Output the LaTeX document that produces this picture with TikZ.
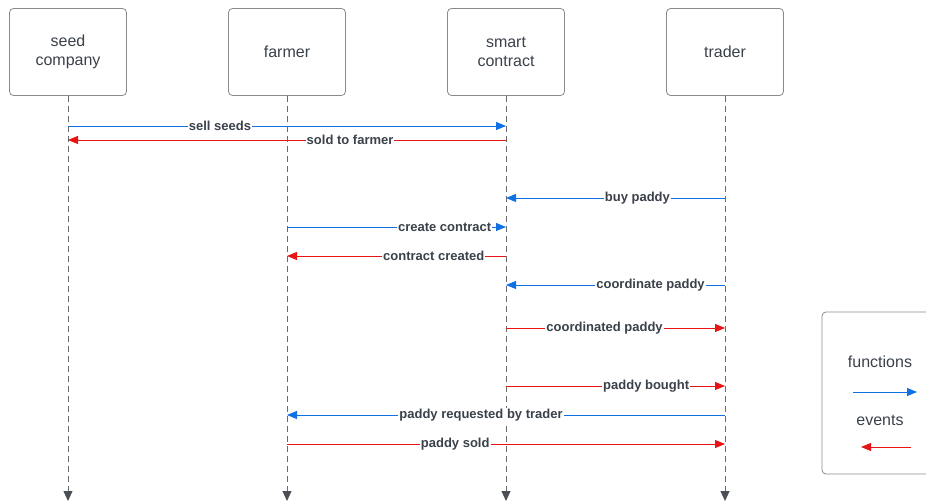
\documentclass[tikz,border=0pt]{standalone}
\usepackage{fontspec}
\setmainfont{Liberation Sans}
\usepackage{tikz}
\usetikzlibrary{positioning}
\usetikzlibrary{arrows.meta}
\definecolor{fnblue}{HTML}{1071E5}
\definecolor{evred}{HTML}{E81313}
\definecolor{boxgray}{HTML}{8A8A8A}
\definecolor{linegray}{HTML}{6B6B6B}
\definecolor{tipgray}{HTML}{4A4F55}
\definecolor{txtgray}{HTML}{3A414A}

\begin{document}
\begin{tikzpicture}[
            x = 1pt, y = -1pt, % pixel grid, y downwards
            > = {Triangle[length=10pt,width=8pt]}, % arrow head style
            node distance = 101.2pt, % gap between boxes
            actor/.style = {draw = boxgray, rounded corners = 4pt, line width = 0.8pt,
                minimum width = 117pt, minimum height = 87pt, align = center,
                text = txtgray, font = \fontsize{16}{19}\selectfont},
            lifeline/.style = {draw = linegray, dashed, dash pattern = on 6pt off 4pt,
                line width = 0.8pt, -{Triangle[length=10pt,width=9pt,color=tipgray]}},
            fn/.style = {draw = fnblue, line width = 0.9pt, ->, fnblue},
            ev/.style = {draw = evred, line width = 0.9pt, ->, evred},
            lbl/.style = {fill = white, inner sep = 1pt, text = txtgray,
                font = \bfseries\fontsize{13}{15}\selectfont}
        ]
        \useasboundingbox (0,0) rectangle (926,502);

        % participants
        \node[actor] (seed) at (68,52) {seed\\company};
        \node[actor] (farmer) [right=of seed] {farmer};
        \node[actor] (smart) [right=of farmer] {smart\\contract};
        \node[actor] (trader) [right=of smart] {trader};

        % lifelines
        \coordinate (bottom) at (0,501);
        \foreach \p in {seed, farmer, smart, trader}
            \draw[lifeline] (\p.south) -- (\p.south |- bottom);

        % message rows
        \coordinate (m1) at (0,126);
        \coordinate (m2) at (0,140);
        \coordinate (m3) at (0,198);
        \coordinate (m4) at (0,227);
        \coordinate (m5) at (0,256);
        \coordinate (m6) at (0,285);
        \coordinate (m7) at (0,328);
        \coordinate (m8) at (0,386);
        \coordinate (m9) at (0,415);
        \coordinate (m10) at (0,444);

        % messages
        \draw[fn] (seed |- m1) -- node[lbl, pos=.347] {sell seeds} (smart |- m1);
        \draw[ev] (smart |- m2) -- node[lbl, pos=.356] {sold to farmer} (seed |- m2);
        \draw[fn] (trader |- m3) -- node[lbl, pos=.40] {buy paddy} (smart |- m3);
        \draw[fn] (farmer |- m4) -- node[lbl, pos=.72] {create contract} (smart |- m4);
        \draw[ev] (smart |- m5) -- node[lbl, pos=.33] {contract created} (farmer |- m5);
        \draw[fn] (trader |- m6) -- node[lbl, pos=.34] {coordinate paddy} (smart |- m6);
        \draw[ev] (smart |- m7) -- node[lbl, pos=.45] {coordinated paddy} (trader |- m7);
        \draw[ev] (smart |- m8) -- node[lbl, pos=.64] {paddy bought} (trader |- m8);
        \draw[fn] (trader |- m9) -- node[lbl, pos=.557] {paddy requested by trader} (farmer |- m9);
        \draw[ev] (farmer |- m10) -- node[lbl, pos=.384] {paddy sold} (trader |- m10);

        % legend
        \node[draw = boxgray, rounded corners = 4pt, line width = 0.8pt,
            minimum width = 130pt, minimum height = 162pt] (legend) at (887,393) {};
        \node[text = txtgray, font = \fontsize{16}{19}\selectfont] (fnkey) at (880,362) {functions};
        \node[text = txtgray, font = \fontsize{16}{19}\selectfont] (evkey) at (880,420) {events};
        \coordinate (fnA) at (853,392);
        \coordinate (fnB) at (917,392);
        \coordinate (evA) at (911,447);
        \coordinate (evB) at (861,447);
        \draw[fn] (fnA) -- (fnB);
        \draw[ev] (evA) -- (evB);

\end{tikzpicture}
\end{document}
